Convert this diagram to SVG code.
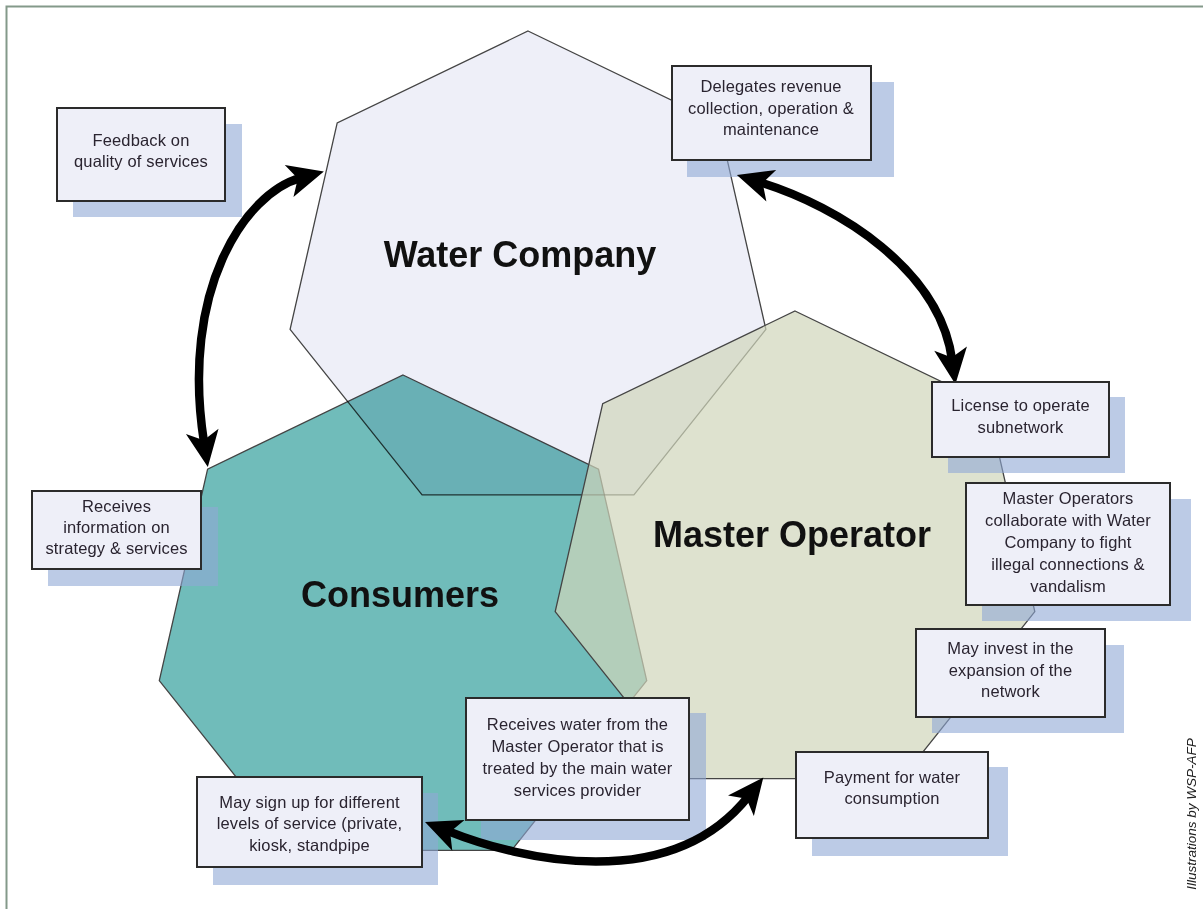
<svg xmlns="http://www.w3.org/2000/svg" width="1203" height="909" viewBox="0 0 1203 909">
<style>
.hept{stroke:#444;stroke-width:1.3;stroke-linejoin:miter}
.shadow{fill:#8fa8d6;opacity:0.6}
.box{fill:#eeeff8;stroke:#2b2b2b;stroke-width:2}
.lbl{font-family:"Liberation Sans",Arial,sans-serif;font-size:16.5px;letter-spacing:0.15px;fill:#2a2430;text-anchor:middle}
.title{font-family:"Liberation Sans",Arial,sans-serif;font-size:36px;font-weight:bold;fill:#111;text-anchor:middle}
.conn{fill:none;stroke:#000;stroke-width:8.5;marker-start:url(#ah);marker-end:url(#ah)}
</style>
<defs>
<marker id="ah" markerUnits="userSpaceOnUse" viewBox="-38 -18 40 36" markerWidth="40" markerHeight="36" refX="-24" refY="0" orient="auto-start-reverse">
<path d="M0,0 L-36,-16.5 L-27,0 L-36,16.5 Z" fill="#000"/>
</marker>
</defs>
<rect x="0" y="0" width="1203" height="909" fill="#fff"/>
<path d="M6.5,909 V6.5 H1203" fill="none" stroke="#84998a" stroke-width="2"/>

<g id="water-company">
<polygon class="hept" fill="#eeeff8" points="528,31 718.8,122.9 765.9,329.3 633.9,494.8 422.1,494.8 290.1,329.3 337.2,122.9"/>
</g>
<g id="consumers">
<polygon class="hept" fill="#70bcba" style="mix-blend-mode:multiply" points="403,375 598.5,469.1 646.7,680.6 511.5,850.3 294.5,850.3 159.3,680.6 207.6,469.1"/>
</g>
<g id="master-operator">
<polygon class="hept" fill="#d0d6ba" fill-opacity="0.7" points="795,311 987.3,403.6 1034.8,611.7 901.7,778.6 688.3,778.6 555.2,611.7 602.7,403.6"/>
</g>
<g id="titles">
<text class="title" x="520" y="267">Water Company</text>
<text class="title" x="400" y="607">Consumers</text>
<text class="title" x="792" y="547">Master Operator</text>
</g>

<g id="shadows">
<rect class="shadow" x="73" y="124" width="169" height="93"/>
<rect class="shadow" x="687" y="82" width="207" height="95"/>
<rect class="shadow" x="948" y="397" width="177" height="76"/>
<rect class="shadow" x="982" y="499" width="209" height="122"/>
<rect class="shadow" x="932" y="645" width="192" height="88"/>
<rect class="shadow" x="812" y="767" width="196" height="89"/>
<rect class="shadow" x="48" y="507" width="170" height="79"/>
<rect class="shadow" x="481" y="713" width="225" height="127"/>
<rect class="shadow" x="213" y="793" width="225" height="92"/>
</g>

<g id="connectors">
<path class="conn" d="M300.7,177.8 C245,193 180,290 204.1,443.2"/>
<path class="conn" d="M759.8,182.2 C840,207 940,270 952.2,360.5"/>
<path class="conn" d="M447.3,830.9 C520,860 670,895 748.4,796.3"/>
</g>

<g id="box-feedback">
<rect class="box" x="57" y="108" width="168" height="93"/>
<text class="lbl" x="141" y="146">Feedback on</text>
<text class="lbl" x="141" y="167">quality of services</text>
</g>
<g id="box-delegates">
<rect class="box" x="672" y="66" width="199" height="94"/>
<text class="lbl" x="771" y="92">Delegates revenue</text>
<text class="lbl" x="771" y="113.5">collection, operation &amp;</text>
<text class="lbl" x="771" y="135">maintenance</text>
</g>
<g id="box-license">
<rect class="box" x="932" y="382" width="177" height="75"/>
<text class="lbl" x="1020.5" y="411">License to operate</text>
<text class="lbl" x="1020.5" y="433">subnetwork</text>
</g>
<g id="box-collaborate">
<rect class="box" x="966" y="483" width="204" height="122"/>
<text class="lbl" x="1068" y="504">Master Operators</text>
<text class="lbl" x="1068" y="526">collaborate with Water</text>
<text class="lbl" x="1068" y="547.5">Company to fight</text>
<text class="lbl" x="1068" y="569.5">illegal connections &amp;</text>
<text class="lbl" x="1068" y="591.5">vandalism</text>
</g>
<g id="box-invest">
<rect class="box" x="916" y="629" width="189" height="88"/>
<text class="lbl" x="1010.5" y="654">May invest in the</text>
<text class="lbl" x="1010.5" y="675.5">expansion of the</text>
<text class="lbl" x="1010.5" y="697">network</text>
</g>
<g id="box-payment">
<rect class="box" x="796" y="752" width="192" height="86"/>
<text class="lbl" x="892" y="783">Payment for water</text>
<text class="lbl" x="892" y="804">consumption</text>
</g>
<g id="box-info">
<rect class="box" x="32" y="491" width="169" height="78"/>
<text class="lbl" x="116.5" y="512">Receives</text>
<text class="lbl" x="116.5" y="533">information on</text>
<text class="lbl" x="116.5" y="554">strategy &amp; services</text>
</g>
<g id="box-receives-water">
<rect class="box" x="466" y="698" width="223" height="122"/>
<text class="lbl" x="577.5" y="730">Receives water from the</text>
<text class="lbl" x="577.5" y="752">Master Operator that is</text>
<text class="lbl" x="577.5" y="774">treated by the main water</text>
<text class="lbl" x="577.5" y="796">services provider</text>
</g>
<g id="box-signup">
<rect class="box" x="197" y="777" width="225" height="90"/>
<text class="lbl" x="309.5" y="808">May sign up for different</text>
<text class="lbl" x="309.5" y="829">levels of service (private,</text>
<text class="lbl" x="309.5" y="851">kiosk, standpipe</text>
</g>
<text x="0" y="0" transform="translate(1196,814) rotate(-90)" font-family="'Liberation Sans',Arial,sans-serif" font-size="13.5" font-style="italic" fill="#222" text-anchor="middle">Illustrations by WSP-AFP</text>
</svg>
